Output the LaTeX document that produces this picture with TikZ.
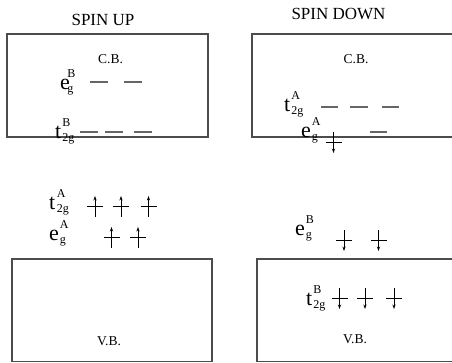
\documentclass[tikz,border=0pt]{standalone}
\usepackage{fontspec}
\setmainfont{Liberation Serif}
\usetikzlibrary{arrows.meta}
\newcommand\levlab[4][1pt]{\fontsize{22}{22}\selectfont #2\hspace{#1}\rlap{\raisebox{12pt}{\fontsize{12}{12}\selectfont #3}}\raisebox{-3.5pt}{\fontsize{12}{12}\selectfont #4}}
\tikzset{
  band/.style={draw=black!70, line width=1.1pt},
  level/.style={draw=black!60, line width=1.1pt},
  spinline/.style={draw=black, line width=0.8pt},
  tip/.style={-{Stealth[length=4.5pt,width=3.2pt]}},
  lab/.style={inner sep=0pt, anchor=base west},
  title/.style={inner sep=0pt, anchor=base, font=\fontsize{17}{17}\selectfont},
  bandname/.style={inner sep=0pt, anchor=base, font=\fontsize{13.5}{14}\selectfont},
  upspin/.pic={\draw[spinline] (-8,0)--(8,0); \draw[spinline,tip] (0,11)--(0,-10);},
  downspin/.pic={\draw[spinline] (-8,0)--(8,0); \draw[spinline,tip] (0,-10)--(0,11);},
}
\begin{document}
\begin{tikzpicture}[x=1pt,y=-1pt]
\useasboundingbox (0,0) rectangle (452,362);
\clip (0,0) rectangle (452,362);
\fill[white] (0,0) rectangle (452,362);
% titles
\node[title] (up) at (103,25) {SPIN UP};
\node[title] (down) at (338.5,19) {SPIN DOWN};
% bands
\draw[band] (7,34) rectangle (208,137);
\draw[band] (252,34) rectangle (480,137);
\draw[band] (12,259) rectangle (212,361.5);
\draw[band] (257,259) rectangle (480,361.5);
\node[bandname] (cb1) at (110.5,63) {C.B.};
\node[bandname] (cb2) at (356,63) {C.B.};
\node[bandname] (vb1) at (109,345) {V.B.};
\node[bandname] (vb2) at (355,343) {V.B.};
% spin up: conduction band levels
\node[lab] (egB1) at (60,89) {\levlab[-2.5pt]{e}{B}{g}};
\draw[level] (90,82)--(108,82) (124,82)--(142,82);
\node[lab] (t2gB1) at (55,138) {\levlab{t}{B}{2g}};
\draw[level] (80,132)--(98,132) (105,132)--(123,132) (134,132)--(152,132);
% spin up: occupied levels
\node[lab] (t2gA1) at (49,209) {\levlab[1.5pt]{t}{A}{2g}};
\pic at (95,206) {upspin};
\pic at (121,206) {upspin};
\pic at (148.5,206) {upspin};
\node[lab] (egA1) at (49,240) {\levlab{e}{A}{g}};
\pic at (111.5,237) {upspin};
\pic at (138,237) {upspin};
% spin down: conduction band levels
\node[lab] (t2gA2) at (284,111) {\levlab{t}{A}{2g}};
\draw[level] (321,107)--(338,107) (350,107)--(368,107) (382,107)--(399,107);
\node[lab] (egA2) at (301,137) {\levlab{e}{A}{g}};
\draw[level] (370,132)--(387,132);
\pic at (333.5,142) {downspin};
% spin down: occupied levels
\node[lab] (egB2) at (295,235) {\levlab{e}{B}{g}};
\pic at (344,240) {downspin};
\pic at (378.5,240) {downspin};
\node[lab] (t2gB2) at (306,305) {\levlab{t}{B}{2g}};
\pic at (339.5,298) {downspin};
\pic at (365,298) {downspin};
\pic at (394,298) {downspin};
\end{tikzpicture}
\end{document}
